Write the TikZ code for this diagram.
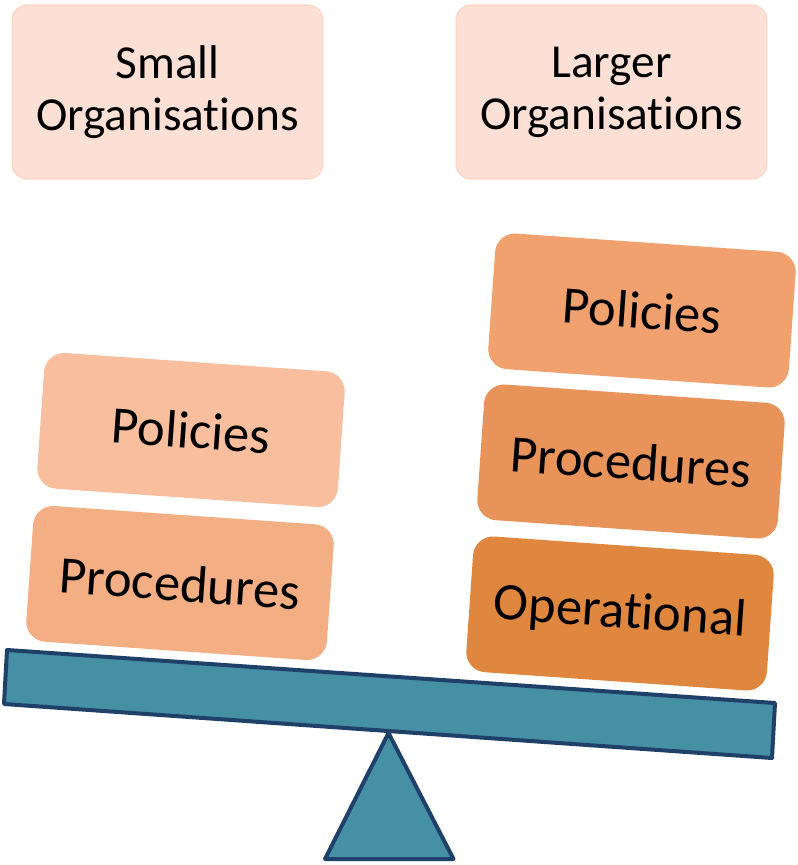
\documentclass[tikz,border=0pt]{standalone}
\usepackage{fontspec}
\setmainfont{Carlito}[Ligatures=NoCommon]
\definecolor{topfill}{HTML}{FCE0D5}
\definecolor{topline}{HTML}{FAD4C4}
\definecolor{lpol}{HTML}{F8BE9E}
\definecolor{lproc}{HTML}{F4AE84}
\definecolor{rpol}{HTML}{F0A16E}
\definecolor{rproc}{HTML}{E8935A}
\definecolor{roper}{HTML}{E0873F}
\definecolor{beamfill}{HTML}{4690A6}
\definecolor{beamline}{HTML}{1F4068}
\begin{document}
\begin{tikzpicture}[x=0.75pt,y=-0.75pt,
  topbox/.style={draw=topline, line width=0.8pt, fill=topfill, rounded corners=11pt,
    minimum width=233pt, minimum height=130.5pt, inner sep=0pt, align=center,
    font=\fontsize{35.5}{39}\selectfont},
  stackbox/.style={fill=#1, rounded corners=15pt, rotate=-4,
    minimum width=226pt, minimum height=102pt, inner sep=0pt,
    font=\fontsize{39.5}{43}\selectfont},
  scaleshape/.style={fill=beamfill, draw=beamline, line width=3pt, line join=round}]
\useasboundingbox (0,0) rectangle (798,865);
\node[topbox] (small) at (167.5,92) {Small\\Organisations};
\node[topbox] (large) at (611.5,92) {Larger\\Organisations};
\node[stackbox=lpol] (lpolicies) at (191,430) {Policies};
\node[stackbox=lproc] (lprocedures) at (180,583) {Procedures};
\node[stackbox=rpol] (rpolicies) at (642,310.5) {Policies};
\node[stackbox=rproc] (rprocedures) at (631,461.5) {Procedures};
\node[stackbox=roper] (roperational) at (620,613.5) {Operational};
\coordinate (btl) at (7,650);
\coordinate (btr) at (775,703);
\coordinate (bbr) at (772,758);
\coordinate (bbl) at (4,704);
\coordinate (apex) at (388.5,733);
\coordinate (tbl) at (325,859);
\coordinate (tbr) at (453.5,859);
\draw[scaleshape] (btl) -- (btr) -- (bbr) -- (bbl) -- cycle;
\draw[scaleshape] (apex) -- (tbr) -- (tbl) -- cycle;
\end{tikzpicture}
\end{document}
